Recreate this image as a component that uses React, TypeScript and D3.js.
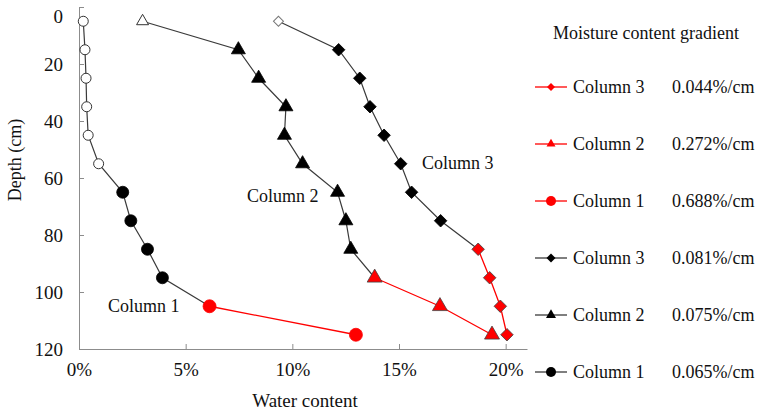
import { useEffect, useRef } from "react";
import * as d3 from "d3";

// depths (cm) and water content (%)
const depths = [5, 15, 25, 35, 45, 55, 65, 75, 85, 95, 105, 115];
const column1 = [0.2, 0.28, 0.33, 0.36, 0.43, 0.92, 2.05, 2.43, 3.21, 3.91, 6.12, 12.98];
const column2 = [2.98, 7.47, 8.42, 9.7, 9.63, 10.48, 12.12, 12.51, 12.74, 13.86, 16.92, 19.36];
const column3 = [9.35, 12.17, 13.16, 13.64, 14.3, 15.08, 15.59, 16.95, 18.71, 19.25, 19.75, 20.06];

const columnNames = ["Column 1", "Column 2", "Column 3"];
const openCounts = [6, 1, 1]; // hollow markers at the top of each profile
const redStarts = [10, 9, 8]; // first index of the red part

const legendNames = ["Column 3", "Column 2", "Column 1", "Column 3", "Column 2", "Column 1"];
const legendGradients = ["0.044%/cm", "0.272%/cm", "0.688%/cm", "0.081%/cm", "0.075%/cm", "0.065%/cm"];

const xTicks = [0, 5, 10, 15, 20];
const yTicks = [0, 20, 40, 60, 80, 100, 120];

const FONT = "'Liberation Serif', 'Times New Roman', serif";
const BLACK = "#3a3a3a";
const RED = "#ff0000";

const App = () => {
  const svgRef = useRef(null);
  const width = 763;
  const height = 414;

  useEffect(() => {
    const x = d3.scaleLinear().domain([0, 21]).range([79, 527]);
    const y = d3.scaleLinear().domain([0, 120]).range([7, 349]);

    const svg = d3.select(svgRef.current);
    svg.selectAll("*").remove();
    const g = svg.append("g");

    // axes
    const xAxis = d3.axisBottom(x).tickValues(xTicks).tickSizeInner(-5).tickSizeOuter(0).tickFormat((d) => `${d}%`);
    const xg = g.append("g").attr("transform", `translate(0,${y(120)})`).call(xAxis);
    xg.select(".domain").attr("stroke", "#8c8c8c");
    xg.selectAll("line").attr("stroke", "#8c8c8c");
    xg.selectAll("text")
      .attr("font-family", FONT)
      .attr("font-size", 19)
      .attr("fill", "#111")
      .attr("y", 14);

    const yAxis = d3.axisLeft(y).tickValues(yTicks).tickSizeInner(-5).tickSizeOuter(0);
    const yg = g.append("g").attr("transform", `translate(${x(0)},0)`).call(yAxis);
    yg.select(".domain").attr("stroke", "#8c8c8c");
    yg.selectAll("line").attr("stroke", "#8c8c8c");
    yg.selectAll("text")
      .attr("font-family", FONT)
      .attr("font-size", 19)
      .attr("fill", "#111")
      .attr("x", -16)
      .attr("dy", (d) => (d === 0 ? "0.8em" : "0.33em"));

    g.append("text")
      .attr("x", 305)
      .attr("y", 407)
      .attr("text-anchor", "middle")
      .attr("font-family", FONT)
      .attr("font-size", 19)
      .attr("fill", "#111")
      .text("Water content");

    g.append("text")
      .attr("transform", "translate(21,160) rotate(-90)")
      .attr("text-anchor", "middle")
      .attr("font-family", FONT)
      .attr("font-size", 18)
      .attr("fill", "#111")
      .text("Depth (cm)");

    const line = d3
      .line()
      .x((d) => x(d[0]))
      .y((d) => y(d[1]));

    const circle = (r) => d3.symbol(d3.symbolCircle, Math.PI * r * r)();
    const triangle = (s) => d3.symbol(d3.symbolTriangle, (Math.sqrt(3) / 4) * s * s)();
    const diamond = (diag) => d3.symbol(d3.symbolSquare, (diag * diag) / 2)();

    const shapes = [
      { open: circle(5), full: circle(6), red: circle(6.5), legRed: circle(5), legBlack: circle(5), rot: 0 },
      { open: triangle(12), full: triangle(14), red: triangle(15), legRed: triangle(9), legBlack: triangle(10), rot: 0 },
      { open: diamond(10), full: diamond(12.5), red: diamond(12.5), legRed: diamond(8), legBlack: diamond(9), rot: 45 },
    ];

    const series = [column1, column2, column3];

    series.forEach((vals, i) => {
      const pts = vals.map((v, j) => [v, depths[j]]);
      const rs = redStarts[i];
      const sh = shapes[i];

      g.append("path")
        .attr("fill", "none")
        .attr("stroke", BLACK)
        .attr("stroke-width", 1.2)
        .attr("d", line(pts.slice(0, rs + 1)));
      g.append("path")
        .attr("fill", "none")
        .attr("stroke", RED)
        .attr("stroke-width", 1.3)
        .attr("d", line(pts.slice(rs)));

      g.selectAll(null)
        .data(pts)
        .enter()
        .append("path")
        .attr("transform", (d) => `translate(${x(d[0])},${y(d[1])}) rotate(${sh.rot})`)
        .attr("d", (d, j) => (j < openCounts[i] ? sh.open : j < rs ? sh.full : sh.red))
        .attr("fill", (d, j) => (j < openCounts[i] ? "#fff" : j < rs ? "#000" : RED))
        .attr("stroke", (d, j) => (j < openCounts[i] ? (i === 2 ? "#777" : "#333") : j < rs ? "#000" : i === 0 ? RED : "#444"))
        .attr("stroke-width", (d, j) => (j < openCounts[i] ? 1 : 0.8));
    });

    // annotations
    const notes = [
      { t: columnNames[0], x: 108, y: 306 },
      { t: columnNames[1], x: 247, y: 196 },
      { t: columnNames[2], x: 422, y: 163 },
    ];
    g.selectAll(null)
      .data(notes)
      .enter()
      .append("text")
      .attr("x", (d) => d.x)
      .attr("y", (d) => d.y)
      .attr("dy", "0.33em")
      .attr("font-family", FONT)
      .attr("font-size", 18)
      .attr("fill", "#111")
      .text((d) => d.t);

    // legend
    const leg = g.append("g");
    leg.append("text")
      .attr("x", 646)
      .attr("y", 33)
      .attr("dy", "0.33em")
      .attr("text-anchor", "middle")
      .attr("font-family", FONT)
      .attr("font-size", 18)
      .attr("fill", "#111")
      .text("Moisture content gradient");

    const legY = d3.scalePoint().domain(d3.range(legendNames.length)).range([87, 372]);
    legendNames.forEach((name, k) => {
      const isRed = k < 3;
      const idx = 2 - (k % 3);
      const sh = shapes[idx];
      const cy = legY(k);
      const row = leg.append("g").attr("transform", `translate(0,${cy})`);
      row.append("line")
        .attr("x1", 535)
        .attr("x2", 567)
        .attr("stroke", isRed ? RED : BLACK)
        .attr("stroke-width", 1.3);
      row.append("path")
        .attr("transform", `translate(551,0) rotate(${sh.rot})`)
        .attr("d", isRed ? sh.legRed : sh.legBlack)
        .attr("fill", isRed ? RED : "#000");
      row.append("text")
        .attr("x", 573)
        .attr("dy", "0.33em")
        .attr("font-family", FONT)
        .attr("font-size", 18)
        .attr("fill", "#111")
        .text(name);
      row.append("text")
        .attr("x", 672)
        .attr("dy", "0.33em")
        .attr("font-family", FONT)
        .attr("font-size", 18)
        .attr("fill", "#111")
        .text(legendGradients[k]);
    });
  }, []);

  return (
    <svg
      ref={svgRef}
      width={width}
      height={height}
      style={{ position: "absolute", left: 0, top: 0, background: "#fff" }}
    />
  );
};

export default App;
